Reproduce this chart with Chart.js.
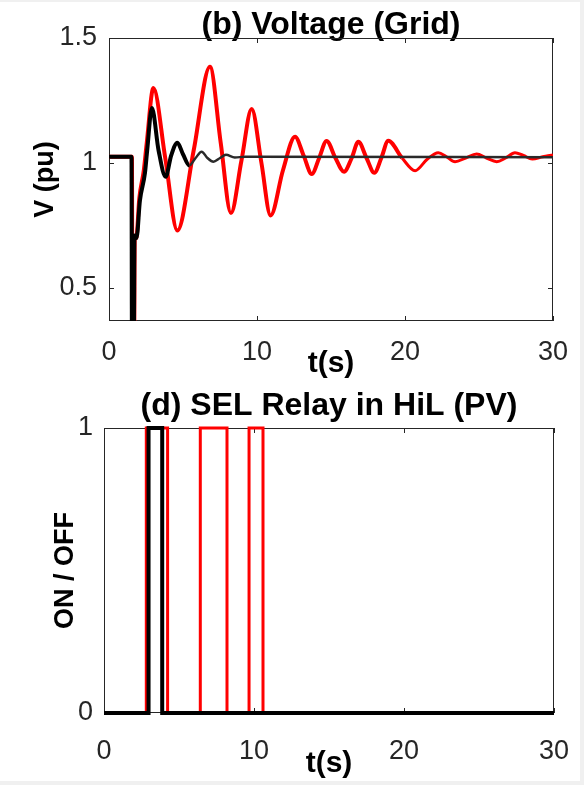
<!DOCTYPE html>
<html>
<head>
<meta charset="utf-8">
<script src="https://cdn.jsdelivr.net/npm/chart.js@4.4.1/dist/chart.umd.min.js"></script>
<style>
  html, body { margin: 0; padding: 0; background: #f0f0f0; }
  #page { position: absolute; left: 0; top: 2px; width: 580px; height: 779px; background: #fff; }
  .box { position: absolute; left: 0; width: 584px; }
  #top { top: 0; height: 380px; }
  #bottom { top: 380px; height: 405px; }
</style>
</head>
<body>
<div id="page"></div>
<div class="box" id="top"><canvas id="voltage"></canvas></div>
<div class="box" id="bottom"><canvas id="relay"></canvas></div>
<script>
// (b) Voltage (Grid) - black trace
const timeBlack = [0, 1.52, 1.55, 1.68, 1.72, 1.86, 2.09, 2.43, 2.58, 2.9, 3.35, 3.83, 4.2, 4.62, 5.0, 5.43, 5.85, 6.26, 6.65, 7.05, 7.5, 7.9, 8.5, 9.2, 30];
const voltBlack = [1.025, 1.025, 0.3, 0.3, 0.71, 0.70, 0.85, 0.96, 1.05, 1.22, 1.05, 0.945, 1.03, 1.081, 1.035, 0.99, 1.02, 1.045, 1.02, 1.005, 1.02, 1.033, 1.022, 1.025, 1.023];

// (b) Voltage (Grid) - red trace
const timeRed = [0, 1.55, 1.58, 1.70, 1.74, 1.84, 2.05, 2.35, 2.55, 3.0, 3.8, 4.62, 5.72, 6.82, 7.55, 8.24, 8.95, 9.64, 10.3, 10.92, 11.75, 12.57, 13.15, 13.7, 14.2, 14.7, 15.3, 15.88, 16.4, 16.85, 17.4, 17.93, 18.4, 18.87, 19.8, 20.68, 21.5, 22.25, 22.8, 23.38, 24.1, 24.84, 25.5, 26.2, 26.8, 27.43, 28.0, 28.6, 29.3, 30];
const voltRed = [1.025, 1.025, 0.3, 0.3, 0.70, 0.70, 0.86, 0.97, 1.08, 1.30, 1.02, 0.73, 1.05, 1.385, 1.08, 0.80, 1.01, 1.216, 1.0, 0.79, 0.97, 1.105, 1.03, 0.956, 1.02, 1.088, 1.02, 0.965, 1.02, 1.085, 1.02, 0.961, 1.02, 1.089, 1.02, 0.969, 1.015, 1.041, 1.025, 1.005, 1.02, 1.036, 1.02, 1.005, 1.02, 1.041, 1.03, 1.016, 1.025, 1.032];

// (d) SEL Relay in HiL (PV) - switching instants
const relayTimeBlack = [0, 2.97, 2.97, 3.88, 3.88, 30];
const relayStateBlack = [0, 0, 1, 1, 0, 0];
const relayTimeRed = [0, 2.82, 2.82, 4.24, 4.24, 6.42, 6.42, 8.2, 8.2, 9.67, 9.67, 10.6, 10.6, 30];
const relayStateRed = [0, 0, 1, 1, 0, 0, 1, 1, 0, 0, 1, 1, 0, 0];

const timeTicks = [0, 10, 20, 30];
const voltTicks = [0.5, 1, 1.5];
const relayTicks = [0, 1];

const FONT = "'Liberation Sans', Arial, sans-serif";
const pts = (xs, ys) => xs.map((x, i) => ({ x: x, y: ys[i] }));

// MATLAB-like axes box with inward ticks
const boxPlugin = {
  id: "box",
  beforeDatasetsDraw(chart) {
    const { ctx, chartArea: a, scales } = chart;
    const x = scales.x, y = scales.y;
    ctx.save();
    ctx.strokeStyle = "#262626";
    ctx.lineWidth = 1;
    ctx.strokeRect(Math.round(a.left) + 0.5, Math.round(a.top) + 0.5, Math.round(a.width) - 1, Math.round(a.height) - 1);
    ctx.beginPath();
    x.ticks.forEach((t) => {
      const px = Math.round(x.getPixelForValue(t.value)) + 0.5;
      ctx.moveTo(px, a.bottom); ctx.lineTo(px, a.bottom - 5);
      ctx.moveTo(px, a.top); ctx.lineTo(px, a.top + 5);
    });
    y.ticks.forEach((t) => {
      const py = Math.round(y.getPixelForValue(t.value)) + 0.5;
      ctx.moveTo(a.left, py); ctx.lineTo(a.left + 5, py);
      ctx.moveTo(a.right, py); ctx.lineTo(a.right - 5, py);
    });
    ctx.stroke();
    ctx.restore();
  },
};

function makeOptions(cfg) {
  return {
    responsive: true,
    maintainAspectRatio: false,
    animation: false,
    layout: { padding: { left: 0, right: cfg.right, top: 0, bottom: 0 } },
    plugins: {
      legend: { display: false },
      tooltip: { enabled: false },
      title: {
        display: true,
        text: cfg.title,
        fullSize: false,
        color: "#000",
        font: { family: FONT, size: 32, weight: "bold" },
        padding: cfg.titlePad,
      },
    },
    scales: {
      x: {
        type: "linear",
        min: 0,
        max: 30,
        afterFit: (s) => { s.height = cfg.xHeight; },
        afterBuildTicks: (s) => { s.ticks = timeTicks.map((v) => ({ value: v })); },
        grid: { display: false },
        border: { display: false },
        ticks: { color: "#262626", padding: cfg.xTickPad, maxRotation: 0, font: { family: FONT, size: 27 } },
        title: {
          display: true,
          text: "t(s)",
          color: "#000",
          font: { family: FONT, size: 30, weight: "bold" },
          padding: { top: 0, bottom: cfg.xTitleBottom },
        },
      },
      y: {
        type: "linear",
        min: cfg.yMin,
        max: cfg.yMax,
        afterFit: (s) => { s.width = cfg.yWidth; },
        afterBuildTicks: (s) => { s.ticks = cfg.yTicks.map((v) => ({ value: v })); },
        grid: { display: false },
        border: { display: false },
        ticks: { color: "#262626", padding: cfg.yTickPad, font: { family: FONT, size: 27 }, callback: (v) => String(v) },
        title: {
          display: true,
          text: cfg.yTitle,
          color: "#000",
          font: { family: FONT, size: 27, weight: "bold" },
          padding: { top: cfg.yTitleTop, bottom: 0 },
        },
      },
    },
  };
}

new Chart(document.getElementById("voltage"), {
  type: "line",
  data: {
    datasets: [
      {
        data: pts(timeBlack, voltBlack),
        borderColor: "#000",
        borderWidth: 4,
        pointRadius: 0,
        cubicInterpolationMode: "monotone",
        segment: {
          borderWidth: (c) => (c.p0.parsed.x > 5 ? 2.5 : 4),
          borderColor: (c) => (c.p0.parsed.x > 5 ? "#2a2a2a" : "#000"),
        },
      },
      {
        data: pts(timeRed, voltRed),
        borderColor: "#ff0000",
        borderWidth: 4,
        pointRadius: 0,
        cubicInterpolationMode: "monotone",
        segment: {
          borderWidth: (c) => (c.p0.parsed.x > 19 ? 3 : 4),
        },
      },
    ],
  },
  options: makeOptions({
    title: "(b) Voltage (Grid)",
    titlePad: { top: 6, bottom: -6.4 },
    right: 31,
    xHeight: 59,
    yWidth: 109,
    xTickPad: 7,
    xTitleBottom: -2,
    yTickPad: 4,
    yTitleTop: 29,
    yMin: 0.368,
    yMax: 1.5,
    yTicks: voltTicks,
    yTitle: "V (pu)",
  }),
  plugins: [boxPlugin],
});

new Chart(document.getElementById("relay"), {
  type: "line",
  data: {
    datasets: [
      {
        data: pts(relayTimeBlack, relayStateBlack),
        borderColor: "#000",
        borderWidth: 4,
        pointRadius: 0,
        clip: 3,
      },
      {
        data: pts(relayTimeRed, relayStateRed),
        borderColor: "#ff0000",
        borderWidth: 3,
        pointRadius: 0,
        clip: 3,
      },
    ],
  },
  options: makeOptions({
    title: "(d) SEL Relay in HiL (PV)",
    titlePad: { top: 7, bottom: 2.6 },
    right: 30,
    xHeight: 72,
    yWidth: 104,
    xTickPad: 14,
    xTitleBottom: 3,
    yTickPad: 3,
    yTitleTop: 49,
    yMin: 0,
    yMax: 1,
    yTicks: relayTicks,
    yTitle: "ON / OFF",
  }),
  plugins: [boxPlugin],
});
</script>
</body>
</html>
